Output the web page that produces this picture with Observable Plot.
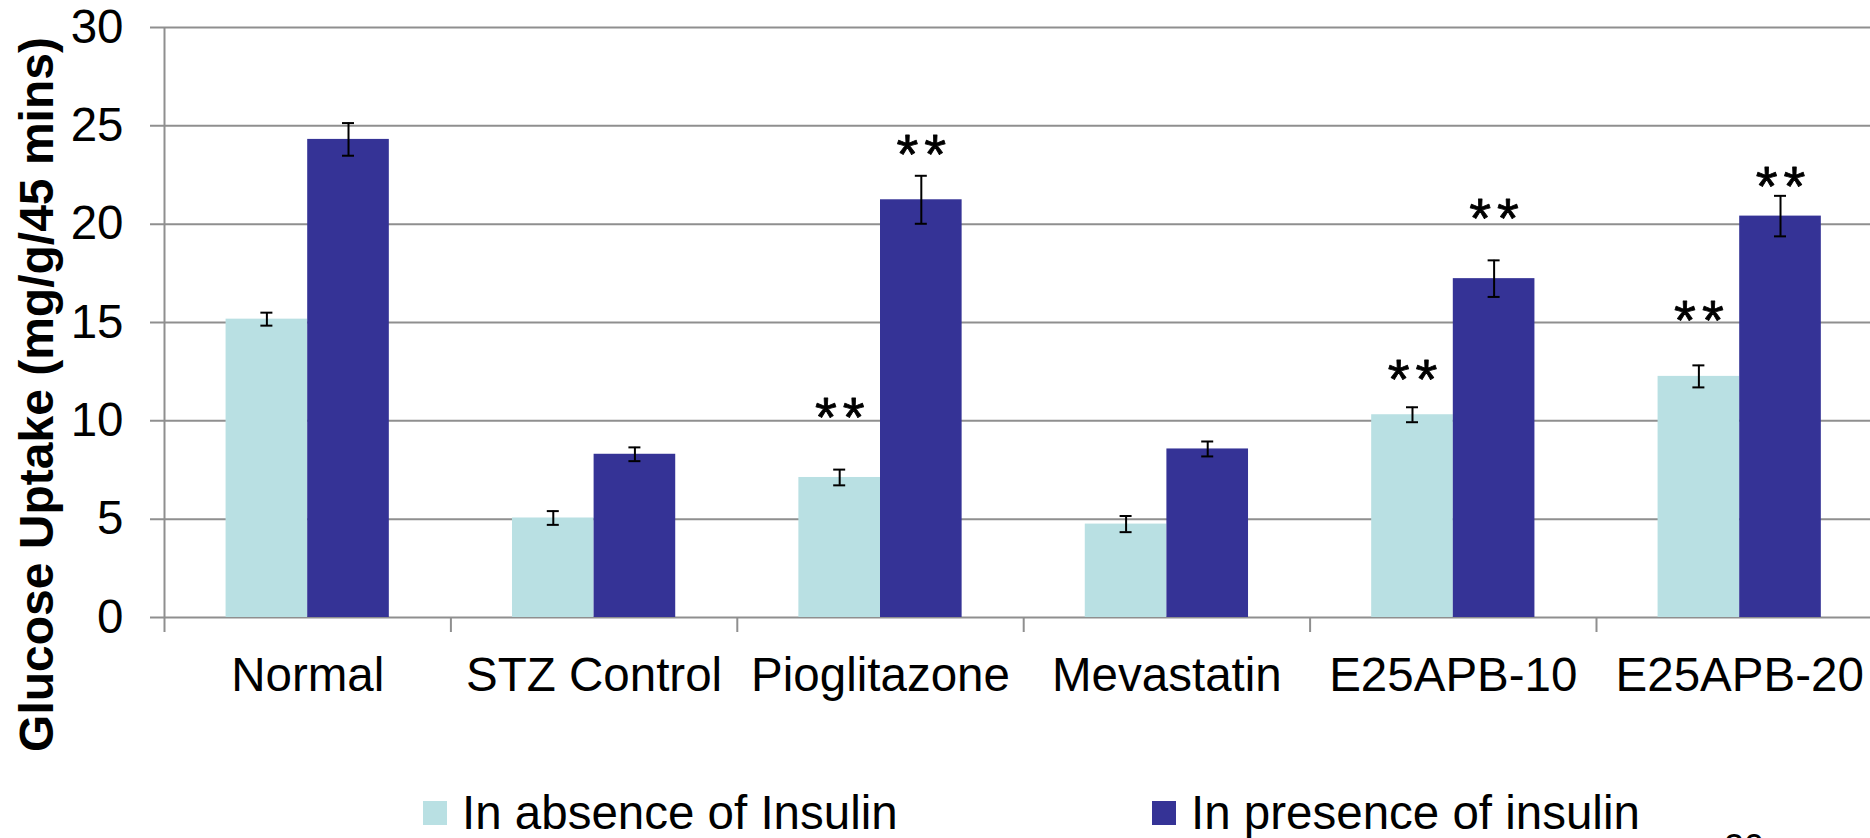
<!DOCTYPE html>
<html>
<head>
<meta charset="utf-8">
<script src="https://cdn.jsdelivr.net/npm/d3@7"></script>
<script src="https://cdn.jsdelivr.net/npm/@observablehq/plot@0.6"></script>
<style>
  body { margin: 0; background: #fff; }
  #wrap { position: relative; width: 1870px; height: 838px; overflow: hidden; font-family: "Liberation Sans", Arial, sans-serif; color: #000; }
  #chart { position: absolute; left: 0; top: 0; }
  .sw { position: absolute; width: 24px; height: 24px; }
  .lt { position: absolute; font-size: 47.5px; line-height: 47.5px; white-space: nowrap; }
  .stars text { letter-spacing: 6px; }
</style>
</head>
<body>
<div id="wrap"><div id="chart"></div></div>
<script>
// ---- data ----
const categories = ["Normal", "STZ Control", "Pioglitazone", "Mevastatin", "E25APB-10", "E25APB-20"];
const seriesNames = ["In absence of Insulin", "In presence of insulin"];
const absence     = [15.17, 5.06, 7.12, 4.75, 10.31, 12.26];
const absenceErr  = [0.33, 0.35, 0.40, 0.41, 0.38, 0.56];
const presence    = [24.31, 8.30, 21.24, 8.57, 17.23, 20.41];
const presenceErr = [0.83, 0.35, 1.22, 0.38, 0.93, 1.03];
// "**" significance marks: vertical position (in axis units) of each mark, null = none
const absenceStars  = [null, null, 10.86, null, 12.80, 15.76];
const presenceStars = [null, null, 24.21, null, 20.97, 22.61];
const yTicks = [0, 5, 10, 15, 20, 25, 30];
const yTitle = "Glucose Uptake (mg/g/45 mins)";
const starText = "**";
const colors = ["#b9e0e3", "#353396"];

// ---- build table ----
const rows = [];
categories.forEach((c, i) => {
  rows.push({i, cat: c, s: 0, v: absence[i], e: absenceErr[i], star: absenceStars[i]});
  rows.push({i, cat: c, s: 1, v: presence[i], e: presenceErr[i], star: presenceStars[i]});
});

const barFrac = 0.285; // each bar's share of a category band
const left = d => d.i + 0.5 + (d.s === 0 ? -barFrac : 0);
const right = d => d.i + 0.5 + (d.s === 0 ? 0 : barFrac);
const cx = d => d.i + 0.5 + (d.s === 0 ? -barFrac / 2 : barFrac / 2);

const grid = "#8f8f8f";
const fs = 47.5;

const chart = Plot.plot({
  width: 1870,
  height: 760,
  marginLeft: 164,
  marginRight: 0,
  marginTop: 27,
  marginBottom: 143,
  style: {fontFamily: "'Liberation Sans', Arial, sans-serif", fontSize: fs + "px", color: "#000", background: "#fff"},
  x: {type: "linear", domain: [0, categories.length], range: [164, 164 + 286.4 * categories.length]},
  y: {domain: [0, 30]},
  color: {type: "ordinal", domain: [0, 1], range: colors},
  marks: [
    // horizontal gridlines (extend left as tick marks)
    Plot.ruleY(yTicks, {stroke: grid, strokeWidth: 2, insetLeft: -14}),
    // bars
    Plot.rectY(rows, {x1: left, x2: right, y: "v", fill: "s"}),
    // y axis line
    Plot.ruleX([0], {y1: 30, y2: 0, stroke: grid, strokeWidth: 2, insetBottom: -15}),
    // category boundary ticks
    Plot.axisX({ticks: d3.range(1, categories.length + 1), tickSize: 15, stroke: grid, strokeWidth: 2, tickFormat: () => ""}),
    // category labels
    Plot.axisX({ticks: categories.map((c, i) => i + 0.5), tickSize: 0, tickPadding: 40, tickFormat: v => categories[Math.floor(v)], fontSize: fs, label: null}),
    // y tick labels
    Plot.axisY({ticks: yTicks, tickSize: 0, tickPadding: 41, fontSize: fs, label: null}),
    // error bars
    Plot.ruleX(rows, {x: cx, y1: d => d.v - d.e, y2: d => d.v + d.e, stroke: "#000", strokeWidth: 2}),
    Plot.ruleY(rows, {x1: cx, x2: cx, y: d => d.v + d.e, stroke: "#000", strokeWidth: 2, insetLeft: -6, insetRight: -6}),
    Plot.ruleY(rows, {x1: cx, x2: cx, y: d => d.v - d.e, stroke: "#000", strokeWidth: 2, insetLeft: -6, insetRight: -6}),
    // significance stars
    Plot.text(rows.filter(d => d.star != null), {x: cx, y: "star", text: () => starText, fontSize: 56, dx: 3, dy: 14, fill: "#000", stroke: "#000", strokeWidth: 0.8, className: "stars"}),
    // y axis title
    Plot.text([yTitle], {frameAnchor: "left", textAnchor: "middle", rotate: -90, dx: -127, dy: 72, fontSize: 48, fontWeight: "bold", fill: "#000"})
  ]
});
document.getElementById("chart").appendChild(chart);

// ---- legend (below the svg) ----
const wrap = document.getElementById("wrap");
const legendPos = [{sw: 423, tx: 462}, {sw: 1152, tx: 1191}];
seriesNames.forEach((name, k) => {
  const sw = document.createElement("div");
  sw.className = "sw";
  sw.style.left = legendPos[k].sw + "px";
  sw.style.top = "801px";
  sw.style.background = colors[k];
  wrap.appendChild(sw);
  const t = document.createElement("div");
  t.className = "lt";
  t.style.left = legendPos[k].tx + "px";
  t.style.top = "789px";
  t.textContent = name;
  wrap.appendChild(t);
});
// slide page number, mostly cut off at the bottom edge
const pn = document.createElement("div");
pn.className = "lt";
pn.style.fontSize = "36px";
pn.style.lineHeight = "36px";
pn.style.left = "1724px";
pn.style.top = "830px";
pn.textContent = "20";
wrap.appendChild(pn);
</script>
</body>
</html>
